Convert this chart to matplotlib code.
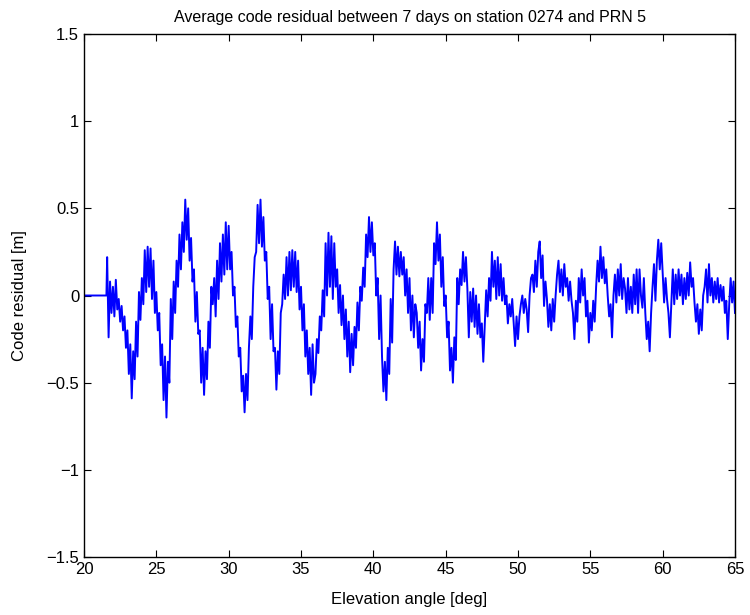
import numpy as np
import matplotlib
matplotlib.use("Agg")
import matplotlib.pyplot as plt

plt.rcParams["font.family"] = ["Liberation Sans", "DejaVu Sans"]

# flat part before the satellite data starts
flat_elev = [20.0, 21.55]
flat_resid = [0.0, 0.0]

# residual samples, 0.1 deg apart from 21.6 to 65.0
resid = [
    0.22, -0.24, 0.08, -0.10,
    0.05, -0.12, 0.09, -0.08, -0.02, -0.15, -0.06, -0.20, -0.12, -0.30,
    -0.20, -0.45, -0.28, -0.59, -0.32, -0.48, -0.15, -0.35, 0.02, -0.14,
    0.10, -0.05, 0.26, 0.02, 0.28, 0.05, 0.27, -0.02, 0.20, -0.10,
    0.02, -0.20, -0.10, -0.40, -0.28, -0.60, -0.35, -0.70, -0.38, -0.50,
    -0.02, -0.25, 0.08, -0.10, 0.20, 0.05, 0.35, 0.15, 0.42, 0.25,
    0.55, 0.32, 0.50, 0.20, 0.33, 0.08, 0.15, -0.15, 0.02, -0.22,
    -0.20, -0.50, -0.30, -0.57, -0.32, -0.48, -0.15, -0.30, 0.05, -0.05,
    0.10, -0.12, 0.20, -0.02, 0.30, 0.08, 0.35, 0.12, 0.42, 0.15,
    0.40, 0.15, 0.25, 0.00, 0.05, -0.18, -0.12, -0.35, -0.30, -0.55,
    -0.46, -0.67, -0.45, -0.60, -0.30, -0.12, -0.25, 0.05, 0.22, 0.25,
    0.52, 0.30, 0.55, 0.28, 0.45, 0.20, 0.25, -0.02, 0.05, -0.25,
    -0.05, -0.32, -0.30, -0.54, -0.32, -0.45, -0.10, -0.05, 0.12, -0.02,
    0.22, 0.00, 0.25, 0.03, 0.26, 0.05, 0.25, 0.02, 0.20, -0.08,
    0.05, -0.20, -0.05, -0.35, -0.20, -0.45, -0.30, -0.57, -0.28, -0.50,
    -0.45, -0.25, -0.33, -0.12, -0.20, 0.03, -0.12, 0.30, 0.00, 0.36,
    0.05, 0.34, -0.02, 0.30, 0.05, 0.15, -0.10, 0.06, -0.17, 0.00,
    -0.25, -0.08, -0.35, -0.15, -0.44, -0.22, -0.40, -0.18, -0.30, -0.04,
    -0.20, 0.05, -0.03, 0.16, 0.05, 0.35, 0.22, 0.45, 0.25, 0.42,
    0.23, 0.30, 0.00, 0.10, -0.25, 0.00, -0.35, -0.55, -0.38, -0.60,
    -0.30, -0.45, -0.02, -0.27, 0.15, 0.31, 0.12, 0.28, 0.11, 0.25,
    0.12, 0.22, 0.00, 0.15, -0.10, 0.10, -0.20, 0.00, -0.24, -0.05,
    -0.10, -0.30, -0.15, -0.43, -0.25, -0.38, -0.05, -0.10, 0.10, -0.14,
    0.10, -0.10, 0.30, 0.18, 0.42, 0.20, 0.35, 0.05, 0.22, -0.06,
    0.00, -0.24, -0.15, -0.43, -0.30, -0.50, -0.24, -0.37, 0.10, -0.05,
    0.15, 0.06, 0.25, 0.08, 0.22, 0.04, -0.24, 0.02, -0.15, 0.04,
    -0.18, 0.00, -0.22, -0.05, -0.24, -0.16, -0.38, -0.18, 0.03, -0.12,
    0.10, -0.03, 0.25, 0.05, 0.20, -0.02, 0.22, 0.00, 0.18, -0.03,
    0.10, -0.05, 0.00, -0.16, -0.05, -0.12, -0.02, -0.16, -0.29, -0.12,
    -0.25, -0.12, -0.05, 0.00, -0.10, -0.02, -0.08, -0.21, 0.00, 0.10,
    0.12, 0.02, 0.20, 0.05, 0.25, 0.31, 0.10, 0.23, -0.06, 0.08,
    -0.02, -0.18, -0.05, -0.20, -0.02, -0.15, 0.00, 0.12, 0.20, 0.02,
    0.15, 0.00, 0.18, 0.05, 0.10, -0.03, 0.08, -0.03, -0.10, -0.25,
    -0.03, -0.15, 0.10, -0.04, 0.15, 0.00, 0.10, -0.12, -0.03, -0.27,
    -0.10, -0.20, -0.03, -0.15, 0.05, 0.20, 0.08, 0.28, 0.10, 0.22,
    0.07, 0.15, 0.00, -0.12, -0.05, -0.24, 0.00, 0.12, -0.04, 0.15,
    0.00, 0.18, -0.02, 0.10, 0.04, -0.10, 0.10, -0.08, 0.05, -0.10,
    0.12, -0.05, 0.15, -0.10, 0.15, 0.00, -0.07, 0.10, -0.10, -0.25,
    -0.15, -0.32, -0.10, 0.05, 0.18, -0.03, 0.20, 0.32, 0.15, 0.30,
    0.13, -0.04, 0.10, -0.02, -0.10, -0.24, -0.04, 0.15, -0.05, 0.12,
    -0.02, 0.15, 0.00, 0.12, -0.05, 0.10, -0.02, 0.13, 0.00, 0.19,
    0.05, 0.10, -0.04, -0.15, -0.05, -0.22, -0.08, -0.20, 0.00, 0.05,
    0.15, -0.04, 0.18, 0.00, 0.10, -0.04, 0.08, -0.02, 0.10, -0.04,
    0.06, -0.03, 0.05, -0.10, -0.03, -0.25, -0.05, 0.10, -0.04, 0.08,
    -0.10,
]
elev = np.linspace(21.6, 65.0, len(resid))

xticks = [20, 25, 30, 35, 40, 45, 50, 55, 60, 65]
yticks = [-1.5, -1, -0.5, 0, 0.5, 1, 1.5]
ytick_labels = ["\u22121.5", "\u22121", "\u22120.5", "0", "0.5", "1", "1.5"]

fig = plt.figure(figsize=(7.5, 6.15), dpi=100)
ax = fig.add_axes([0.112, 0.0943, 0.868, 0.8504])

ax.plot(flat_elev + list(elev), flat_resid + resid, color="#0000ff", linewidth=1.4)

ax.set_xlim(20, 65)
ax.set_ylim(-1.5, 1.5)
ax.set_xticks(xticks)
ax.set_yticks(yticks)
ax.set_yticklabels(ytick_labels)
ax.tick_params(direction="in", top=True, right=True, labelsize=12, length=5, width=0.8)
for s in ax.spines.values():
    s.set_linewidth(1.0)

ax.set_title("Average code residual between 7 days on station 0274 and PRN 5", fontsize=11.5, pad=9)
ax.set_xlabel("Elevation angle [deg]", fontsize=12, labelpad=11)
ax.set_ylabel("Code residual [m]", fontsize=12, labelpad=14)

fig.savefig("out.png", dpi=100)
